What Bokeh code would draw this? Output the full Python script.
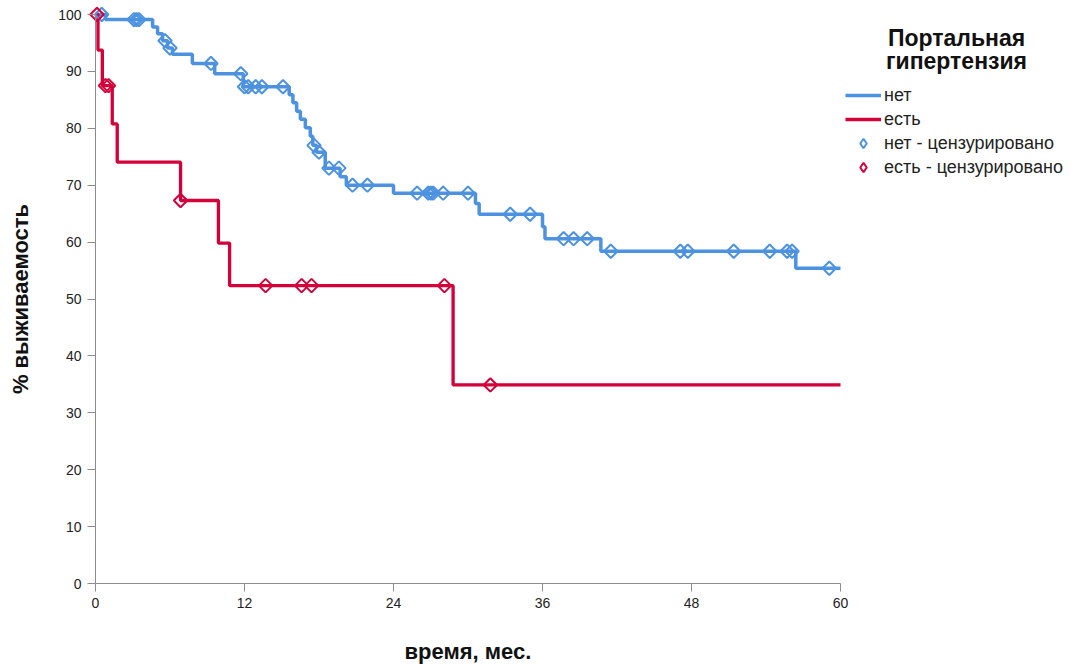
import numpy as np
from bokeh.plotting import figure
from bokeh.models import Range1d, FixedTicker, Legend, LegendItem, Label
from bokeh.embed import file_html
from bokeh.resources import INLINE

# Kaplan-Meier estimates, % survival, by portal hypertension status
no_time = [0, 0.8, 4.6, 5.0, 5.4, 5.8, 6.2, 7.8, 9.6, 11.9, 15.6, 15.9, 16.2,
           16.5, 16.9, 17.3, 17.5, 17.8, 18.5, 19.7, 20.2, 24.0, 30.6, 30.9,
           36.0, 36.2, 40.7, 56.4, 60.0]
no_surv = [100, 99.1, 97.8, 96.6, 95.4, 94.1, 93.0, 91.4, 89.6, 87.3, 85.9,
           84.5, 83.0, 81.6, 80.1, 78.6, 77.0, 75.8, 73.0, 71.5, 70.0, 68.6,
           66.8, 64.9, 62.7, 60.6, 58.4, 55.4, 55.4]
no_censored = [0.5, 3.1, 3.3, 3.5, 5.6, 6.0, 9.3, 11.7, 12.0, 12.3, 12.9, 13.4,
               15.1, 17.6, 18.0, 18.8, 19.6, 20.7, 21.9, 25.9, 26.8, 27.0,
               27.2, 28.0, 30.0, 33.4, 35.0, 37.7, 38.5, 39.6, 41.5, 47.1,
               47.7, 51.4, 54.3, 55.7, 56.1, 59.1]

yes_time = [0, 0.2, 0.55, 1.35, 1.75, 6.85, 9.9, 10.8, 28.8, 60.0]
yes_surv = [100, 93.75, 87.5, 80.77, 74.04, 67.31, 59.83, 52.35, 34.90, 34.90]
yes_censored = [0.12, 0.8, 1.05, 6.85, 13.7, 16.6, 17.4, 28.1, 31.8]

x_ticks = [0, 12, 24, 36, 48, 60]
y_ticks = [0, 10, 20, 30, 40, 50, 60, 70, 80, 90, 100]
x_max, y_max = 60, 100

x_title = "время, мес."
y_title = "% выживаемость"
legend_title = ["Портальная", "гипертензия"]

BLUE = "#4C92E0"
RED = "#D4003A"
NARROW = "'Liberation Sans Narrow', 'Liberation Sans', Arial, sans-serif"
SANS = "'Liberation Sans', Arial, sans-serif"

# page geometry (pixels): where the 0..60 / 0..100 axes sit on the canvas
W, H = 1071, 666
AX_LEFT, AX_RIGHT = 95, 840
AX_TOP, AX_BOTTOM = 14, 583


def level_at(times, surv, points):
    """Survival level of the step curve at each censoring time."""
    idx = np.searchsorted(np.asarray(times), np.asarray(points), side="right") - 1
    return [surv[i] for i in idx]


no_cens_level = level_at(no_time, no_surv, no_censored)
yes_cens_level = level_at(yes_time, yes_surv, yes_censored)

# The plotting frame covers the whole canvas; the axes are pinned at x=0 / y=0
# and bounded to the data span, so titles and legend can sit anywhere.
kx = x_max / (AX_RIGHT - AX_LEFT)
ky = y_max / (AX_BOTTOM - AX_TOP)
x_range = Range1d(-AX_LEFT * kx, (W - AX_LEFT) * kx)
y_range = Range1d(-(H - AX_BOTTOM) * ky, (AX_BOTTOM) * ky)

p = figure(width=W, height=H, output_backend="svg", toolbar_location=None,
           x_range=x_range, y_range=y_range,
           min_border=0)
p.outline_line_color = None
p.grid.visible = False

no_line = p.step(no_time, no_surv, mode="after", line_color=BLUE, line_width=3.5)
yes_line = p.step(yes_time, yes_surv, mode="after", line_color=RED, line_width=3.3)

p.scatter(no_censored, no_cens_level, marker="square", angle=np.pi / 4,
          size=9.5, fill_color=None, line_color=BLUE, line_width=2)
p.scatter(yes_censored, yes_cens_level, marker="square", angle=np.pi / 4,
          size=9.5, fill_color=None, line_color=RED, line_width=2)

# hidden diamond renderers that only provide the legend swatches
no_key = p.scatter(no_censored, no_cens_level, marker="diamond",
                   fill_color=None, line_color=BLUE, line_width=2, visible=False)
yes_key = p.scatter(yes_censored, yes_cens_level, marker="diamond",
                    fill_color=None, line_color=RED, line_width=2, visible=False)

for ax in (p.xaxis[0], p.yaxis[0]):
    ax.fixed_location = 0
    ax.axis_line_color = "#8C8C8C"
    ax.major_tick_line_color = "#8C8C8C"
    ax.major_tick_out = 8
    ax.major_tick_in = 0
    ax.minor_tick_line_color = None
    ax.major_label_text_font = NARROW
    ax.major_label_text_font_size = "14px"
    ax.major_label_text_color = "#222222"
    ax.major_label_standoff = 6

p.xaxis.bounds = (0, x_max)
p.yaxis.bounds = (0, y_max)
p.xaxis.ticker = FixedTicker(ticks=x_ticks)
p.yaxis.ticker = FixedTicker(ticks=y_ticks)

# axis titles (screen units measured from the canvas bottom-left)
p.add_layout(Label(x=(AX_LEFT + AX_RIGHT) / 2, y=H - 651,
                   x_units="screen", y_units="screen", text=x_title,
                   text_align="center", text_baseline="middle",
                   text_font=NARROW, text_font_size="22px",
                   text_font_style="bold", text_color="#111111"))
p.add_layout(Label(x=20, y=H - (AX_TOP + AX_BOTTOM) / 2,
                   x_units="screen", y_units="screen", text=y_title,
                   angle=np.pi / 2, text_align="center", text_baseline="middle",
                   text_font=NARROW, text_font_size="22px",
                   text_font_style="bold", text_color="#111111"))

legend = Legend(items=[
    LegendItem(label="нет", renderers=[no_line]),
    LegendItem(label="есть", renderers=[yes_line]),
    LegendItem(label="нет - цензурировано", renderers=[no_key]),
    LegendItem(label="есть - цензурировано", renderers=[yes_key]),
], location=(AX_RIGHT + 5, H - 179), orientation="vertical",
    glyph_width=36, glyph_height=24, label_height=24, spacing=0,
    label_standoff=3, padding=0, margin=0,
    border_line_color=None, background_fill_alpha=0,
    inactive_fill_alpha=0,
    label_text_font=SANS, label_text_font_size="18px",
    label_text_color="#222222")
p.add_layout(legend, "center")

for txt, ypos in zip(legend_title, (37, 60)):
    p.add_layout(Label(x=956, y=H - ypos, x_units="screen", y_units="screen",
                       text=txt, text_align="center", text_baseline="middle",
                       text_font=SANS, text_font_size="23px",
                       text_font_style="bold", text_color="#111111"))

open("out.html", "w").write(file_html(p, INLINE))
